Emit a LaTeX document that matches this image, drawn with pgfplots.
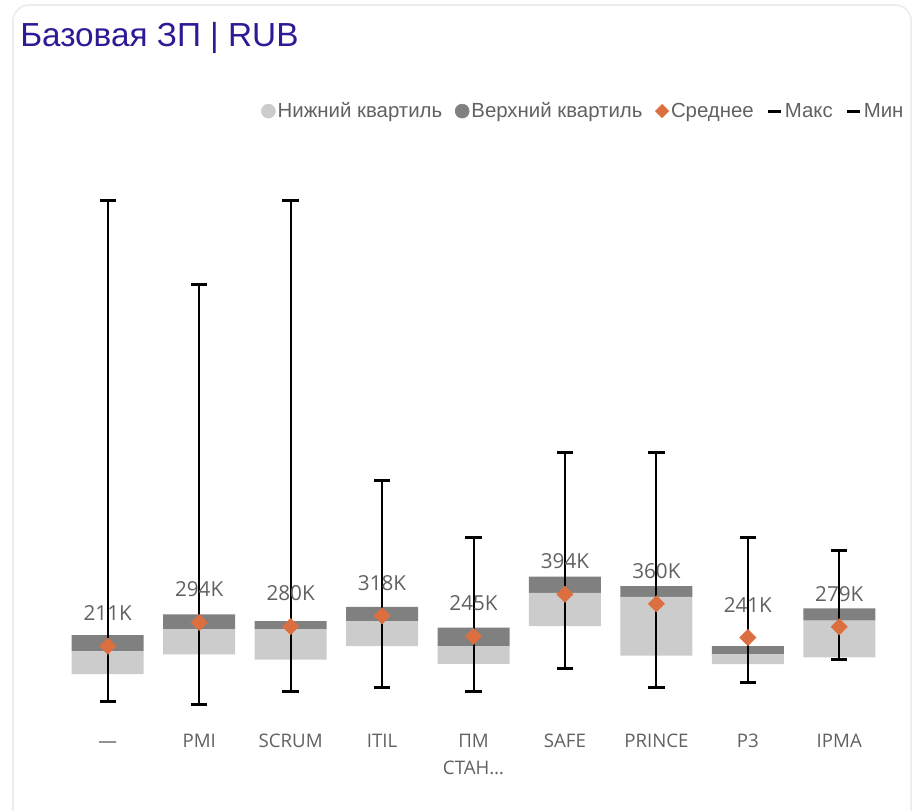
\documentclass[border=0pt]{standalone}
\usepackage{pgfplots}
\usepackage{pgfplotstable}
\pgfplotsset{compat=1.18}
\usepackage{fontspec}
\setmainfont{Liberation Sans}
\newfontfamily\segoe{Open Sans}

\definecolor{lq}{HTML}{CCCCCC}
\definecolor{uq}{HTML}{808080}
\definecolor{orng}{HTML}{DC6F3F}
\definecolor{txt}{HTML}{616161}
\definecolor{ttl}{HTML}{2D1B96}
\definecolor{frame}{HTML}{ECECEC}

% values in thousands of RUB
\pgfplotstableread{
x min q1  med q3  max  mean lbl
0 14  112 192 250 1786 211  211K
1 3   182 271 323 1489 294  294K
2 51  163 271 299 1786 280  280K
3 63  211 299 349 794  318  318K
4 52  148 211 276 596  245  245K
5 133 281 399 456 893  394  394K
6 63  177 385 423 893  360  360K
7 82  147 182 211 596  241  241K
8 162 171 301 344 548  279  279K
}\boxdata

\pgfplotsset{
  common/.style={
    at={(46.5pt,73.9pt)}, anchor=south west,
    scale only axis, width=617.25pt, height=392.9pt,
    xmin=-0.5, xmax=8.5, ymin=-20, ymax=1830,
  }
}

\begin{document}
\begin{tikzpicture}
\path[use as bounding box] (0,0) rectangle (684pt,607.5pt);
\clip (0,0) rectangle (684pt,607.5pt);
\draw[frame, line width=1.2pt, rounded corners=12pt] (9.75pt,603.75pt) rectangle (683.4pt,-30pt);
\node[anchor=base west, inner sep=0pt, text=ttl, font=\fontsize{25}{30}\selectfont]
  at (15pt,572.25pt) {Базовая ЗП | RUB};

% boxes: lower part invisible, then lower and upper quartile halves
\begin{axis}[common,
  ybar stacked, bar width=54pt,
  axis line style={draw=none},
  ytick=\empty,
  xtick={0,...,8},
  xticklabels={\strut —,\strut PMI,\strut SCRUM,\strut ITIL,{\strut ПМ\\СТАН…},
    \strut SAFE,\strut PRINCE,\strut P3,\strut IPMA},
  xtick style={draw=none},
  xticklabel style={font=\segoe\fontsize{14}{20}\selectfont, text=txt,
    align=center, anchor=north, inner sep=0pt, yshift=-13pt},
]
\addplot[draw=none, fill=none] table[x=x, y=q1] {\boxdata};
\addplot[draw=none, fill=lq] table[x=x, y expr=\thisrow{med}-\thisrow{q1}] {\boxdata};
\addplot[draw=none, fill=uq] table[x=x, y expr=\thisrow{q3}-\thisrow{med}] {\boxdata};
\end{axis}

% whiskers, means and legend
\begin{axis}[common,
  hide axis,
  legend columns=-1,
  legend cell align=left,
  legend style={at={(1.030,1.146)}, anchor=east, draw=none, fill=none,
    font=\fontsize{15.3}{18}\selectfont, text=txt,
    nodes={inner sep=1.5pt},
    /tikz/every even column/.append style={column sep=8pt}},
]
\addplot[forget plot, only marks, mark=none, black,
  error bars/.cd, y dir=both, y explicit, error mark=|,
  error bar style={black, line width=1.5pt},
  error mark options={black, line width=2.25pt, mark size=6.1pt}]
  table[x=x, y=mean,
    y error plus expr=\thisrow{max}-\thisrow{mean},
    y error minus expr=\thisrow{mean}-\thisrow{min}] {\boxdata};
\addplot[forget plot, orng, only marks, mark=square*, mark size=4.3pt,
  mark options={rotate=45, fill=orng, draw=none},
  point meta=explicit symbolic, nodes near coords,
  every node near coord/.append style={font=\segoe\fontsize{15.5}{18}\selectfont,
    text=txt, anchor=center, yshift=24.75pt}]
  table[x=x, y=mean, meta=lbl] {\boxdata};

\addlegendimage{legend image code/.code={\fill[lq] (0pt,0pt) circle (5.25pt);}}
\addlegendentry{Нижний квартиль}
\addlegendimage{legend image code/.code={\fill[uq] (0pt,0pt) circle (5.25pt);}}
\addlegendentry{Верхний квартиль}
\addlegendimage{legend image code/.code={\fill[orng] (0pt,5pt)--(5pt,0pt)--(0pt,-5pt)--(-5pt,0pt)--cycle;}}
\addlegendentry{Среднее}
\addlegendimage{legend image code/.code={\draw[black, line width=2.25pt] (-5pt,0pt)--(5pt,0pt);}}
\addlegendentry{Макс}
\addlegendimage{legend image code/.code={\draw[black, line width=2.25pt] (-5pt,0pt)--(5pt,0pt);}}
\addlegendentry{Мин}
\end{axis}
\end{tikzpicture}
\end{document}
